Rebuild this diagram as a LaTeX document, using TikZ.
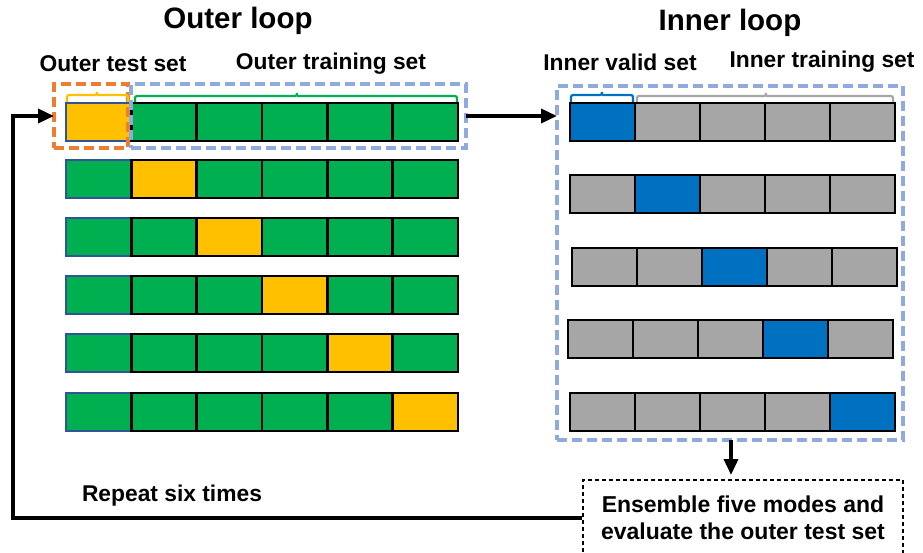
\documentclass[tikz,border=0pt]{standalone}
\usepackage{fontspec}
\setmainfont{Liberation Sans}
\usetikzlibrary{arrows.meta}
\definecolor{cgreen}{HTML}{00B050}
\definecolor{cyellow}{HTML}{FFC000}
\definecolor{cblue}{HTML}{0070C0}
\definecolor{cgray}{HTML}{A6A6A6}
\definecolor{cdash}{HTML}{8FAADC}
\definecolor{corange}{HTML}{ED7D31}
\definecolor{cdkblue}{HTML}{2F5597}
\tikzset{
  cell/.style={draw=black, line width=2.5pt, minimum width=65pt, minimum height=38pt, inner sep=0pt, outer sep=0pt, anchor=north west},
  lbl/.style={font=\bfseries\fontsize{22.8}{26}\selectfont, inner sep=0pt},
  ttl/.style={font=\bfseries\fontsize{29.5}{33}\selectfont, inner sep=0pt},
  dbox/.style={draw=cdash, line width=3.5pt, dash pattern=on 10pt off 5pt, inner sep=0pt, outer sep=0pt},
  arr/.style={line width=3.5pt, -{Triangle[length=16pt,width=14pt]}},
  brace/.style={line width=2.2pt, rounded corners=2pt}
}
\begin{document}
\begin{tikzpicture}[x=1pt,y=-1pt]
\useasboundingbox (0,0) rectangle (923,553);
% titles
\node[ttl] (t1) at (238,21) {Outer loop};
\node[ttl] (t2) at (730,23) {Inner loop};
\node[lbl] (l1) at (113,64) {Outer test set};
\node[lbl] (l2) at (331,64) {Outer training set};
\node[lbl] (l3) at (620,62) {Inner valid set};
\node[lbl] (l4) at (822,62) {Inner training set};
% outer rows
\foreach \r/\y in {1/103,2/160,3/218,4/276,5/334,6/393}{
  \foreach \c in {1,...,6}{
    \pgfmathsetmacro{\xx}{66+65.4*(\c-1)}
    \ifnum\c=\r
      \def\fc{cyellow}
    \else
      \def\fc{cgreen}
    \fi
    \ifnum\c=1
      \node[cell, fill=\fc, draw=cdkblue] (o-\r-\c) at (\xx,\y) {};
    \else
      \node[cell, fill=\fc] (o-\r-\c) at (\xx,\y) {};
    \fi
  }
}
% inner rows
\foreach \r/\y/\dx in {1/103/0,2/175/0,3/248/2,4/320/-2,5/393/0}{
  \foreach \c in {1,...,5}{
    \pgfmathsetmacro{\xx}{570+\dx+65*(\c-1)}
    \ifnum\c=\r
      \def\fc{cblue}
    \else
      \def\fc{cgray}
    \fi
    \node[cell, fill=\fc] (i-\r-\c) at (\xx,\y) {};
  }
}
% dashed boxes
\node[dbox, draw=corange, minimum width=74pt, minimum height=64pt, anchor=north west] (testbox) at (54,84) {};
\node[dbox, minimum width=335pt, minimum height=64pt, anchor=north west] (trainbox) at (131,84) {};
\node[dbox, minimum width=346pt, minimum height=354pt, anchor=north west] (innerbox) at (557,86) {};
% braces
\draw[brace, draw=cyellow] (67,102) |- (97,95) -- (97,92) (97,95) -| (128,102);
\draw[brace, draw=cgreen] (135,102) |- (297,96) -- (297,93) (297,96) -| (457,102);
\draw[brace, draw=cblue] (571,102) |- (602,95) -- (602,92) (602,95) -| (633,102);
\draw[brace, draw=cgray] (637,102) |- (766,96) -- (766,93) (766,96) -| (893,102);
% ensemble box
\node[draw=black, line width=1.2pt, dash pattern=on 4pt off 3pt, minimum width=320pt, minimum height=76pt, inner sep=0pt, align=center, font=\bfseries\fontsize{23}{27}\selectfont] (ens) at (743,518) {Ensemble five modes and\\evaluate the outer test set};
\node[lbl] (rep) at (172,496) {Repeat six times};
% connectors
\draw[arr] (trainbox.east) -- (innerbox.west |- trainbox.east);
\draw[arr] (innerbox.south -| 731,0) -- (731,475);
\draw[arr] (ens.west) -- (13,518) |- (testbox.west);
\end{tikzpicture}
\end{document}
